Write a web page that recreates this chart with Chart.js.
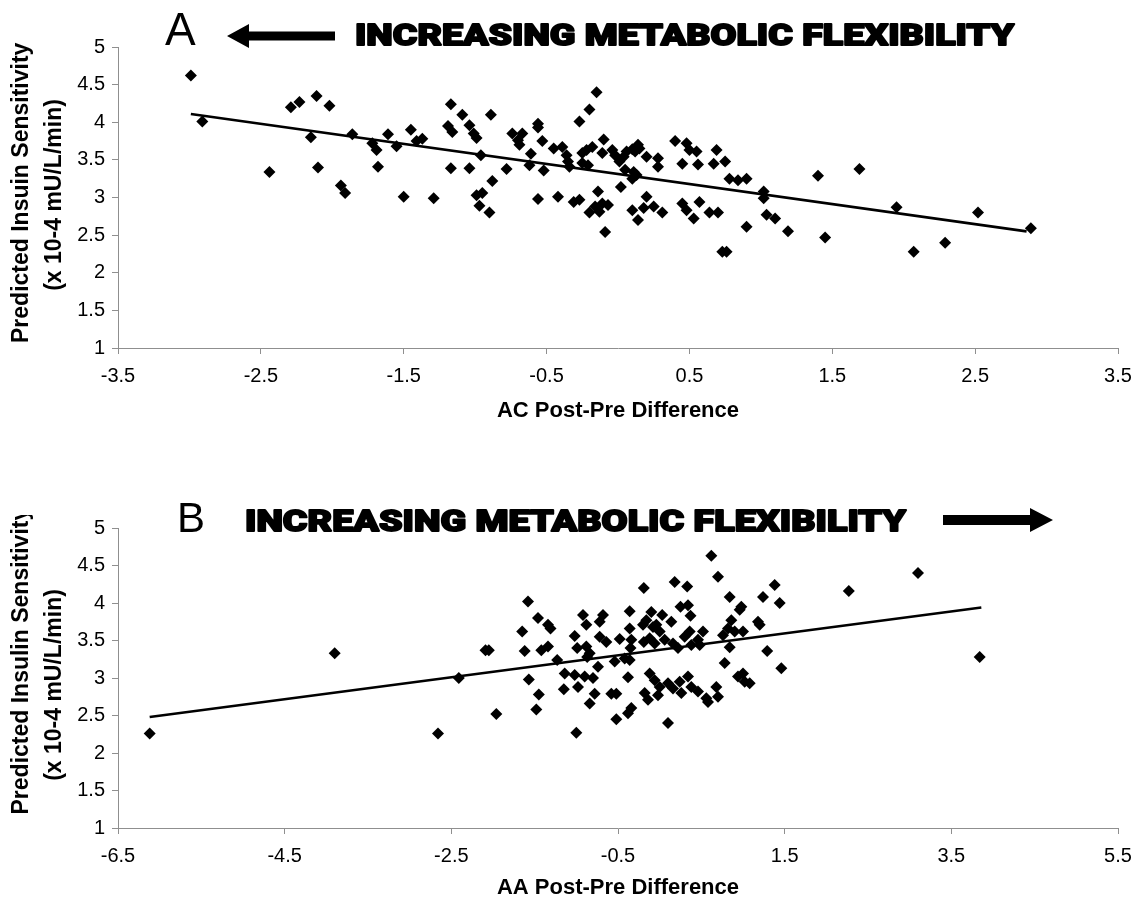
<!DOCTYPE html>
<html><head><meta charset="utf-8">
<script src="https://cdn.jsdelivr.net/npm/chart.js@4.4.1/dist/chart.umd.min.js"></script>
<style>
html,body{margin:0;padding:0;background:#fff;}
#wrap{position:relative;width:1134px;height:906px;overflow:hidden;background:#fff;}
canvas{position:absolute;left:0;}
#cA{top:0;} #cB{top:453px;}
</style></head><body>
<div id="wrap"><canvas id="cA" width="1134" height="453"></canvas><canvas id="cB" width="1134" height="453"></canvas></div>
<script>
// ---------- DATA ----------
const acX = [-2.99,-2.91,-2.44,-2.29,-2.23,-2.11,-2.02,-2.15,-2.10,-1.94,
  -1.91,-1.86,-1.72,-1.69,-1.68,-1.61,-1.55,-1.50,-1.45,-1.41,
  -1.37,-1.29,-1.17,-1.19,-1.16,-1.17,-1.09,-1.04,-1.01,-0.99,
  -0.89,-0.96,-1.04,-0.88,-0.99,-0.95,-0.97,-0.90,-0.78,-0.74,
  -0.67,-0.69,-0.70,-0.56,-0.56,-0.61,-0.62,-0.53,-0.52,-0.56,
  -0.42,-0.45,-0.39,-0.36,-0.35,-0.34,-0.27,-0.20,-0.15,-0.31,
  -0.27,-0.25,-0.22,-0.18,-0.25,-0.21,-0.14,-0.10,-0.11,-0.04,
  -0.02,0.01,0.04,0.06,0.10,0.14,0.12,0.15,0.05,0.11,
  0.10,0.13,0.02,-0.11,-0.13,-0.07,-0.20,-0.16,-0.09,0.10,
  0.14,0.18,0.20,0.25,0.31,0.20,0.28,0.28,0.40,0.48,
  0.50,0.55,0.45,0.56,0.45,0.48,0.53,0.57,0.64,0.70,
  0.69,0.67,0.75,0.78,0.84,0.90,0.73,0.76,0.90,1.02,
  1.02,1.04,1.10,1.19,1.40,1.69,1.45,1.95,2.07,2.29,
  2.52,2.89];
const acY = [4.62,4.01,3.34,4.20,4.27,4.35,4.22,3.80,3.40,3.16,
  3.06,3.84,3.72,3.63,3.41,3.84,3.68,3.01,3.90,3.75,
  3.78,2.99,4.24,3.95,3.87,3.39,4.10,3.96,3.85,3.79,
  4.10,3.56,3.39,3.22,3.03,3.06,2.89,2.80,3.38,3.85,
  3.85,3.70,3.76,3.98,3.93,3.58,3.43,3.75,3.36,2.98,
  3.01,3.65,3.67,3.56,3.48,3.41,4.01,4.17,4.40,2.94,
  2.97,3.59,3.63,3.67,3.46,3.43,3.08,3.77,3.59,3.63,
  3.56,3.48,3.54,3.61,3.64,3.70,3.61,3.65,3.37,3.34,
  3.25,3.30,3.14,2.92,2.81,2.90,2.80,2.88,2.54,2.83,
  2.70,2.86,3.01,2.88,2.80,3.54,3.52,3.41,3.75,3.72,
  3.63,3.61,3.45,3.44,2.92,2.83,2.72,2.94,2.80,2.80,
  3.63,3.45,3.48,3.25,3.23,3.25,2.28,2.28,2.61,3.08,
  2.99,2.77,2.72,2.55,3.29,3.38,2.47,2.87,2.28,2.40,
  2.80,2.59];
const acTrendX = [-2.99, 2.86];
const acTrendY = [4.11, 2.55];

const aaX = [-6.12,-3.90,-2.66,-2.41,-2.09,-2.05,-1.96,-1.58,-1.65,-1.62,
  -1.46,-1.34,-1.31,-1.42,-1.34,-1.23,-1.57,-1.45,-1.48,-1.00,
  -1.14,-1.02,-0.90,-0.80,-1.15,-0.98,-0.84,-0.78,-0.92,-0.88,
  -0.68,-0.72,-1.02,-0.99,-0.88,-0.84,-0.87,-0.72,-0.64,-0.74,
  -0.54,-0.42,-0.48,-0.36,-0.36,-0.34,-0.35,-0.36,-0.38,-0.58,
  -0.52,-0.34,-0.38,-0.52,-0.19,-0.20,-0.16,-0.10,-0.08,-0.04,
  0.00,0.03,0.14,-0.19,-0.12,-0.06,0.06,0.16,0.22,0.30,
  0.36,0.38,0.46,0.18,0.33,0.25,0.34,0.37,0.52,0.48,
  -0.12,-0.06,0.00,-0.02,-0.18,-0.14,0.10,0.10,0.16,0.24,
  0.26,0.34,0.38,0.46,0.56,0.58,0.68,0.70,0.62,0.70,
  0.84,0.98,0.96,0.86,0.82,0.76,0.90,1.00,0.84,0.78,
  0.94,1.00,1.02,1.08,1.20,1.18,1.24,1.38,1.44,1.29,
  1.46,2.27,3.10,3.84];
const aaY = [2.26,3.33,2.26,3.00,3.37,3.37,2.52,4.02,3.62,3.36,
  3.80,3.71,3.66,3.37,3.42,3.24,2.98,2.78,2.58,2.27,
  3.06,3.04,3.02,3.00,2.85,2.88,2.66,2.79,3.84,3.71,
  3.84,3.75,3.56,3.40,3.42,3.33,3.28,3.55,3.48,3.15,
  3.22,3.26,3.52,3.89,3.66,3.51,3.40,3.24,3.01,2.79,
  2.79,2.60,2.53,2.45,4.20,3.71,3.77,3.88,3.68,3.71,
  3.62,3.84,3.75,3.48,3.53,3.46,3.51,3.46,3.40,3.55,
  3.62,3.44,3.51,4.28,4.22,3.95,3.97,3.83,3.62,3.44,
  3.06,2.97,2.88,2.77,2.80,2.71,2.40,2.93,2.86,2.95,
  2.80,3.02,2.88,2.82,2.73,2.68,2.88,2.75,4.63,4.35,
  4.08,3.95,3.91,3.77,3.66,3.57,3.62,3.62,3.41,3.20,
  3.02,3.06,2.95,2.93,3.71,3.75,4.08,4.24,4.00,3.36,
  3.13,4.16,4.40,3.28];
const aaTrendX = [-6.12, 3.86];
const aaTrendY = [2.48, 3.94];

const acXTicks = [-3.5,-2.5,-1.5,-0.5,0.5,1.5,2.5,3.5];
const aaXTicks = [-6.5,-4.5,-2.5,-0.5,1.5,3.5,5.5];
const yTicks = [1,1.5,2,2.5,3,3.5,4,4.5,5];

const headingText = 'INCREASING METABOLIC FLEXIBILITY';
const xTitleA = 'AC Post-Pre Difference';
const xTitleB = 'AA Post-Pre Difference';
const yTitleA = ['Predicted Insuin Sensitivity', '(x 10-4 mU/L/min)'];
const yTitleB = ['Predicted Insulin Sensitivity', '(x 10-4 mU/L/min)'];

// ---------- RENDERING ----------
const FONT = '"Liberation Sans", Arial, Helvetica, sans-serif';
const HEAVY = 'Roboto, Inter, Lato, "DejaVu Sans", sans-serif';
const AXIS_GREY = '#8f8f8f';

function pts(xs, ys) { return xs.map((x, i) => ({x: x, y: ys[i]})); }

function drawArrow(ctx, a) {
  const dir = Math.sign(a.tip - a.tail);
  const hb = a.tip - dir * a.headLen;
  ctx.beginPath();
  ctx.moveTo(a.tail, a.y - a.sh);
  ctx.lineTo(hb, a.y - a.sh);
  ctx.lineTo(hb, a.y - a.hh);
  ctx.lineTo(a.tip, a.y);
  ctx.lineTo(hb, a.y + a.hh);
  ctx.lineTo(hb, a.y + a.sh);
  ctx.lineTo(a.tail, a.y + a.sh);
  ctx.closePath();
  ctx.fill();
}

function decoPlugin(cfg) {
  return {
    id: 'deco',
    afterDraw(chart) {
      const ctx = chart.ctx;
      ctx.save();
      ctx.fillStyle = '#000';
      ctx.strokeStyle = '#000';
      // panel letter
      ctx.font = cfg.letterSize + 'px ' + FONT;
      ctx.textAlign = 'left';
      ctx.textBaseline = 'alphabetic';
      ctx.fillText(cfg.letter, cfg.letterX, cfg.letterY);
      // heading (heavy, fitted to the measured width)
      ctx.font = '900 30px ' + HEAVY;
      const w = ctx.measureText(headingText).width;
      ctx.save();
      ctx.translate(cfg.headL, cfg.headY);
      ctx.scale((cfg.headR - cfg.headL) / w, 1);
      ctx.lineWidth = 1.8;
      ctx.lineJoin = 'round';
      ctx.fillText(headingText, 0, 0);
      ctx.strokeText(headingText, 0, 0);
      ctx.restore();
      // arrow
      drawArrow(ctx, cfg.arrow);
      // y title
      ctx.font = 'bold 23px ' + FONT;
      ctx.save();
      if (cfg.clipTop != null) {
        ctx.beginPath();
        ctx.rect(0, cfg.clipTop, 112, chart.height);
        ctx.clip();
      }
      ctx.translate(cfg.t1x, cfg.t1y);
      ctx.rotate(-Math.PI / 2);
      ctx.textAlign = 'left';
      ctx.textBaseline = 'middle';
      ctx.fillText(cfg.yTitle[0], 0, 0);
      ctx.restore();
      ctx.save();
      ctx.translate(cfg.t2x, cfg.t2y);
      ctx.rotate(-Math.PI / 2);
      ctx.textAlign = 'center';
      ctx.textBaseline = 'middle';
      ctx.fillText(cfg.yTitle[1], 0, 0);
      ctx.restore();
      ctx.restore();
    }
  };
}

function makeChart(canvasId, o) {
  return new Chart(document.getElementById(canvasId), {
    type: 'scatter',
    data: {
      datasets: [
        {
          type: 'line',
          data: pts(o.trendX, o.trendY),
          borderColor: '#000',
          borderWidth: 2.6,
          pointRadius: 0,
          fill: false,
          tension: 0
        },
        {
          data: pts(o.xs, o.ys),
          pointStyle: 'rectRot',
          pointRadius: 6,
          pointBackgroundColor: '#000',
          pointBorderWidth: 0,
          backgroundColor: '#000',
          borderColor: '#000'
        }
      ]
    },
    options: {
      responsive: false,
      animation: false,
      devicePixelRatio: 1,
      events: [],
      layout: { padding: { left: 0, right: 16, top: o.padTop, bottom: 0 } },
      plugins: { legend: { display: false }, tooltip: { enabled: false }, title: { display: false } },
      scales: {
        x: {
          type: 'linear',
          min: o.xTicks[0],
          max: o.xTicks[o.xTicks.length - 1],
          afterBuildTicks: s => { s.ticks = o.xTicks.map(v => ({ value: v })); },
          afterFit: s => { s.height = o.xHeight; s.paddingLeft = 0; s.paddingRight = 0; },
          ticks: { color: '#000', font: { family: FONT, size: 20 }, padding: 10, maxRotation: 0, autoSkip: false, callback: v => String(v) },
          grid: { drawOnChartArea: false, drawTicks: true, tickLength: 6, color: AXIS_GREY, lineWidth: 1 },
          border: { display: true, color: AXIS_GREY, width: 1 },
          title: { display: true, text: o.xTitle, color: '#000', font: { family: FONT, size: 22, weight: 'bold' }, padding: { top: 0, bottom: o.xTitlePad } }
        },
        y: {
          type: 'linear',
          min: 1,
          max: 5,
          afterBuildTicks: s => { s.ticks = yTicks.map(v => ({ value: v })); },
          afterFit: s => { s.width = 118; s.paddingTop = 0; s.paddingBottom = 0; },
          ticks: { color: '#000', font: { family: FONT, size: 20 }, padding: 7, autoSkip: false, callback: v => String(v) },
          grid: { drawOnChartArea: false, drawTicks: true, tickLength: 6, color: AXIS_GREY, lineWidth: 1 },
          border: { display: true, color: AXIS_GREY, width: 1 }
        }
      }
    },
    plugins: [decoPlugin(o.deco)]
  });
}

makeChart('cA', {
  xs: acX, ys: acY, trendX: acTrendX, trendY: acTrendY, xTicks: acXTicks,
  padTop: 47, xHeight: 105, xTitle: xTitleA, xTitlePad: 28.8,
  deco: {
    letter: 'A', letterSize: 46, letterX: 165, letterY: 45,
    headL: 355, headR: 1014, headY: 45,
    arrow: { tail: 335, tip: 227, y: 36, sh: 4.5, hh: 12, headLen: 22 },
    yTitle: yTitleA, t1x: 22, t1y: 343, t2x: 55, t2y: 195, clipTop: null
  }
});

makeChart('cB', {
  xs: aaX, ys: aaY, trendX: aaTrendX, trendY: aaTrendY, xTicks: aaXTicks,
  padTop: 75, xHeight: 78, xTitle: xTitleB, xTitlePad: 4.8,
  deco: {
    letter: 'B', letterSize: 42, letterX: 177, letterY: 79,
    headL: 245, headR: 906, headY: 78,
    arrow: { tail: 943, tip: 1053, y: 67, sh: 5, hh: 12, headLen: 23 },
    yTitle: yTitleB, t1x: 22, t1y: 361.5, t2x: 55, t2y: 232, clipTop: 62
  }
});
</script>
</body></html>
